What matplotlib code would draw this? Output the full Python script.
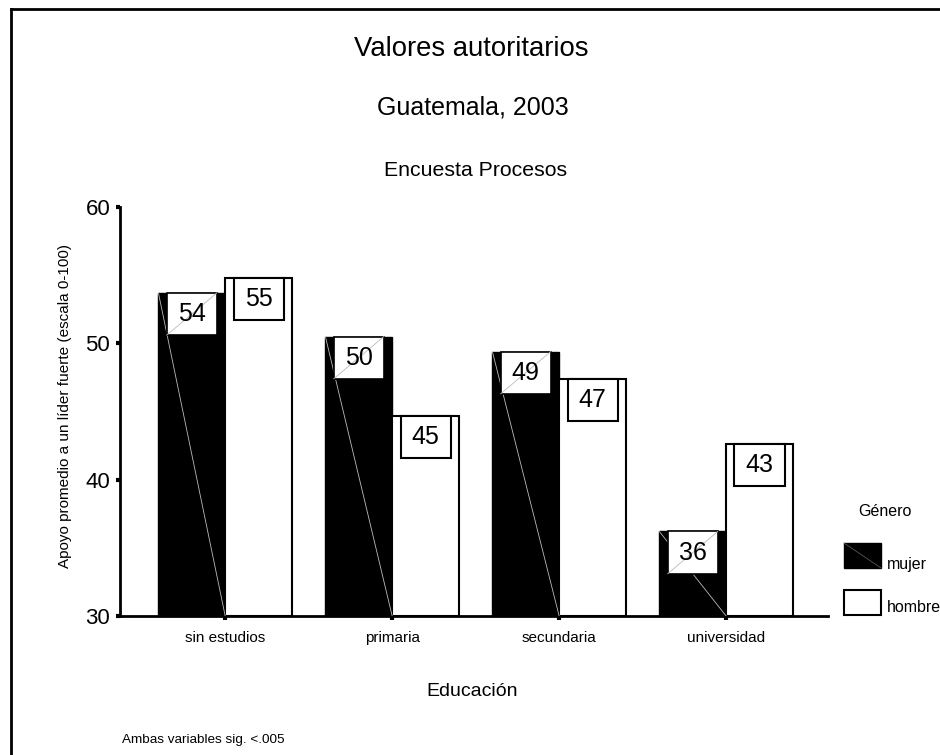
import matplotlib
matplotlib.use("Agg")
import matplotlib.pyplot as plt
from matplotlib.patches import Rectangle
from matplotlib.lines import Line2D
import numpy as np

plt.rcParams['font.family'] = ['Liberation Sans', 'DejaVu Sans']

# datos
categorias = ['sin estudios', 'primaria', 'secundaria', 'universidad']
mujer = [53.7, 50.5, 49.4, 36.2]
hombre = [54.8, 44.7, 47.4, 42.6]
etiquetas_mujer = ['54', '50', '49', '36']
etiquetas_hombre = ['55', '45', '47', '43']
yticks = [30, 40, 50, 60]

W, H = 940, 755
fig = plt.figure(figsize=(W / 100, H / 100), dpi=100)
fig.patch.set_facecolor('white')

# marco de la figura (solo arriba e izquierda)
fig.add_artist(Line2D([11 / W, 1], [1 - 9 / H, 1 - 9 / H], color='black', lw=2))
fig.add_artist(Line2D([11 / W, 11 / W], [0, 1 - 9 / H], color='black', lw=2))

ax = fig.add_axes([120 / W, (H - 616) / H, (828 - 120) / W, (616 - 207) / H])
x = np.arange(len(categorias))
ancho = 0.4

ax.bar(x - ancho / 2, [m - 30 for m in mujer], ancho, bottom=30,
       color='black', edgecolor='black', linewidth=1)
ax.bar(x + ancho / 2, [h - 30 for h in hombre], ancho, bottom=30,
       color='white', edgecolor='black', linewidth=1.5)

# linea diagonal rara dentro de las barras negras
for xi, v in zip(x, mujer):
    ax.plot([xi - ancho, xi], [v, 30], color='#bbbbbb', lw=0.6, zorder=3)

# cajas de etiquetas
bw, bh = 0.30, 3.1
for xi, v, t in zip(x, mujer, etiquetas_mujer):
    cx = xi - ancho / 2
    ax.add_patch(Rectangle((cx - bw / 2, v - bh), bw, bh, facecolor='white',
                           edgecolor='black', lw=1.2, zorder=4))
    ax.plot([cx - bw / 2, cx + bw / 2], [v - bh, v], color='#bbbbbb', lw=0.6, zorder=5)
    ax.text(cx, v - bh / 2, t, ha='center', va='center', fontsize=18, zorder=6)
for xi, v, t in zip(x, hombre, etiquetas_hombre):
    cx = xi + ancho / 2
    ax.add_patch(Rectangle((cx - bw / 2, v - bh), bw, bh, facecolor='white',
                           edgecolor='black', lw=1.5, zorder=4))
    ax.text(cx, v - bh / 2, t, ha='center', va='center', fontsize=18, zorder=6)

ax.set_xlim(-0.63, 3.61)
ax.set_ylim(30, 60)
ax.set_yticks(yticks)
ax.set_yticklabels([str(t) for t in yticks], fontsize=16)
ax.set_xticks(x)
ax.set_xticklabels(categorias, fontsize=11)
ax.tick_params(axis='y', length=3, width=3, direction='out', pad=4)
ax.tick_params(axis='x', length=3, width=3, direction='out', pad=8)
for s in ['top', 'right']:
    ax.spines[s].set_visible(False)
ax.spines['left'].set_linewidth(2)
ax.spines['bottom'].set_linewidth(2)
ax.set_facecolor('none')

fig.text(65 / W, 1 - 406 / H, 'Apoyo promedio a un líder fuerte (escala 0-100)',
         rotation=90, ha='center', va='center', fontsize=11)
fig.text(472 / W, 1 - 691 / H, 'Educación', ha='center', va='center', fontsize=14)

# titulos
fig.text(471 / W, 1 - 49 / H, 'Valores autoritarios', ha='center', va='center', fontsize=19.8)
fig.text(473 / W, 1 - 108 / H, 'Guatemala, 2003', ha='center', va='center', fontsize=18)
fig.text(476 / W, 1 - 170 / H, 'Encuesta Procesos', ha='center', va='center', fontsize=15.3)
fig.text(122 / W, 1 - 740 / H, 'Ambas variables sig. <.005', ha='left', va='center', fontsize=9.7)

# leyenda
fig.text(885 / W, 1 - 512 / H, 'Género', ha='center', va='center', fontsize=11.5)
fig.add_artist(Rectangle((844 / W, 1 - 568 / H), 37 / W, 25 / H, facecolor='black',
                         edgecolor='black', lw=1, transform=fig.transFigure))
fig.add_artist(Line2D([844 / W, 881 / W], [1 - 543 / H, 1 - 568 / H], color='#555555', lw=0.6))
fig.text(887 / W, 1 - 564 / H, 'mujer', ha='left', va='center', fontsize=11.5)
fig.add_artist(Rectangle((844 / W, 1 - 615 / H), 37 / W, 25 / H, facecolor='white',
                         edgecolor='black', lw=1.5, transform=fig.transFigure))
fig.text(887 / W, 1 - 608 / H, 'hombre', ha='left', va='center', fontsize=11.5)

fig.savefig('out.png', dpi=100)
